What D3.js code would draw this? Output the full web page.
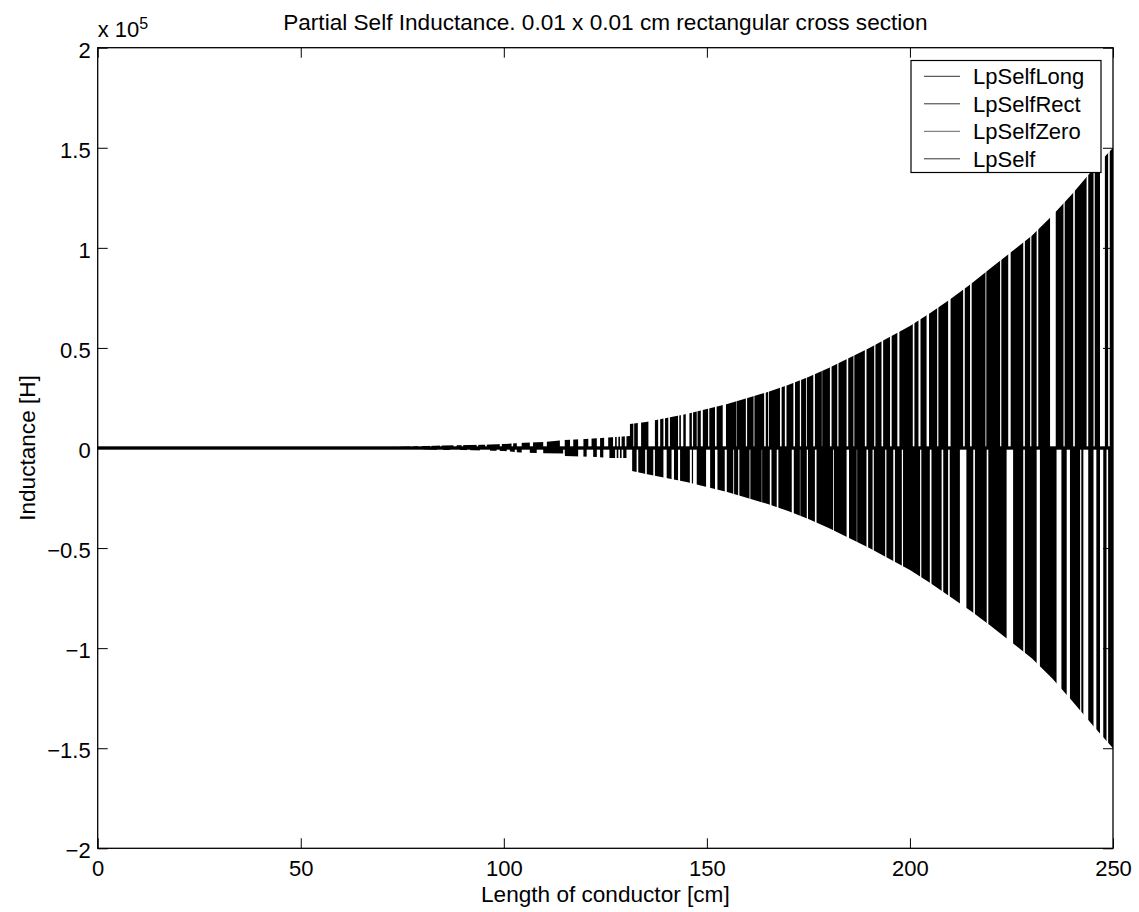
<!DOCTYPE html>
<html>
<head>
<meta charset="utf-8">
<script src="https://cdn.jsdelivr.net/npm/d3@7"></script>
<style>
  html, body { margin: 0; padding: 0; background: #fff; }
  svg { display: block; font-family: "Liberation Sans", Arial, Helvetica, sans-serif; }
</style>
</head>
<body>
<svg id="chart" width="1139" height="912"></svg>
<script>
// ---------------- data ----------------
const titleText = "Partial Self Inductance. 0.01 x 0.01 cm rectangular cross section";
const xLabelText = "Length of conductor [cm]";
const yLabelText = "Inductance [H]";
const lengthTicks = [0, 50, 100, 150, 200, 250];
const inductanceTicks = [-2e5, -1.5e5, -1e5, -0.5e5, 0, 0.5e5, 1e5, 1.5e5, 2e5];
const seriesNames = ["LpSelfLong", "LpSelfRect", "LpSelfZero", "LpSelf"];
const legendColors = ["#333", "#333", "#666", "#333"];

// the three closed-form series stay at ~0 H on this scale
const lengthEnds = [0, 250];
const lpSelfLong = [0, 0];
const lpSelfRect = [0, 0];
const lpSelfZero = [0, 0];
const lpSelfBase = [0, 0];

// LpSelf noise: reach of the spikes [cm, value in 1e5 H]
const upperReach = [
  [65,0.002],[75,0.006],[85,0.012],[95,0.016],[100,0.020],[105,0.026],[110,0.030],
  [115,0.040],[120,0.045],[124,0.050],[131.05,0.060],[131.06,0.120],[135,0.130],
  [140,0.150],[145,0.170],[150,0.195],[155,0.220],[160,0.250],[165,0.280],[170,0.315],
  [175,0.355],[180,0.400],[185,0.450],[190,0.500],[195,0.555],[200,0.610],[205,0.675],
  [210,0.745],[215,0.820],[220,0.900],[225,0.980],[230,1.060],[235,1.160],[240,1.270],
  [245,1.390],[250,1.500]
];
const lowerReach = [
  [75,-0.004],[85,-0.010],[90,-0.010],[95,-0.013],[100,-0.015],[104,-0.022],[110,-0.026],
  [114.9,-0.027],[115,-0.040],[123,-0.045],[126,-0.050],[131.5,-0.050],[131.55,-0.115],
  [135,-0.130],[140,-0.150],[145,-0.170],[150,-0.195],[155,-0.220],[160,-0.250],
  [165,-0.280],[170,-0.315],[175,-0.355],[180,-0.400],[185,-0.450],[190,-0.500],
  [195,-0.555],[200,-0.610],[205,-0.675],[210,-0.745],[215,-0.815],[220,-0.890],
  [225,-0.970],[230,-1.050],[235,-1.150],[240,-1.265],[245,-1.385],[250,-1.500]
];
// where spikes occur [from cm, to cm]
const upperSpans = [
  [66.2,67.0],[68.3,69.1],[69.5,70.7],[72.0,73.2],[74.4,76.9],[77.7,78.9],[79.8,81.8],
  [82.2,84.3],[84.7,87.6],[88.4,89.6],[90.0,93.3],[93.7,95.4],[95.8,99.0],[99.5,101.9],
  [102.3,103.2],[104.4,106.4],[107.2,109.7],[110.6,113.8],[115.0,116.3],[117.1,118.3],
  [119.6,120.8],[121.6,122.9],[123.7,124.7],[125.7,126.9],[127.4,127.8],[128.2,128.6],
  [129.0,129.8],[130.2,131.9],[132.1,133.0],[133.8,135.6],[137.2,138.0],[138.5,139.3],
  [139.7,140.5],[140.9,142.9],[143.2,143.6],[144.2,144.8],[145.7,146.3],[146.6,147.5],
  [147.7,148.5],[149.0,150.3],[150.6,152.0],[152.4,153.9],[154.7,157.2],[157.3,159.6],
  [159.9,161.5],[161.7,164.1],[164.5,165.1],[165.3,168.0],[168.4,169.2],[169.6,171.3],
  [171.7,172.9],[173.2,174.4],[174.6,176.2],[176.6,178.3],[178.4,180.3],[180.7,182.1],
  [182.4,184.4],[184.8,186.1],[186.3,188.9],[189.3,191.2],[191.5,193.0],[193.4,195.1],
  [195.5,196.9],[197.4,200.7],[201.1,202.1],[202.6,204.1],[204.7,206.7],[207.0,209.4],
  [210.0,213.1],[213.5,214.8],[215.2,218.6],[218.8,222.2],[222.5,224.2],[224.8,227.9],
  [228.3,229.6],[229.9,231.2],[231.6,234.5],[235.9,237.8],[238.1,240.2],[240.6,243.5],
  [243.9,245.2],[245.5,246.8],[248.0,248.8],[249.2,250.0]
];
const lowerSpans = [
  [75.2,77.7],[80.2,83.5],[85.1,86.7],[89.2,90.9],[91.7,94.1],[96.6,98.2],[99.0,100.7],
  [101.5,102.7],[103.2,104.4],[106.4,108.1],[109.7,114.6],[115.0,118.3],[119.6,120.4],
  [122.0,122.9],[123.7,124.5],[126.0,127.4],[127.8,128.2],[128.6,129.0],[129.4,130.2],
  [131.6,132.7],[133.1,134.8],[135.2,136.8],[137.2,139.3],[140.1,141.3],[141.9,142.9],
  [143.4,145.8],[146.3,146.6],[147.5,149.8],[150.8,152.0],[152.6,154.4],[154.9,156.5],
  [156.7,157.7],[158.0,160.5],[160.7,163.5],[163.6,165.5],[165.9,167.2],[167.6,170.9],
  [171.4,172.9],[173.0,174.6],[174.9,176.6],[177.0,181.1],[181.3,184.4],[185.0,186.9],
  [187.0,189.3],[189.7,190.8],[191.1,193.9],[194.2,195.9],[196.3,198.0],[198.3,202.5],
  [202.8,204.9],[205.3,207.8],[208.2,209.4],[209.8,212.3],[213.9,215.6],[216.0,218.9],
  [219.3,223.8],[225.4,227.9],[228.3,231.2],[232.0,236.1],[237.3,238.6],[239.4,241.9],
  [242.2,242.7],[243.9,245.2],[245.9,246.8],[247.6,248.4],[248.8,250.0]
];
const yScaleExp = 1e5;

// ---------------- layout ----------------
const svg = d3.select("#chart");
const L = 97.7, R = 1113, T = 47.7, B = 848.3;
const x = d3.scaleLinear().domain([0, 250]).range([L, R]);
const y = d3.scaleLinear().domain([-2e5, 2e5]).range([B, T]);
const tickFont = 22, labelFont = 22.6, legendFont = 22;

// clip paths = where spikes occur
const defs = svg.append("defs");
defs.append("clipPath").attr("id", "upClip").selectAll("rect").data(upperSpans).join("rect")
  .attr("x", d => x(d[0])).attr("width", d => Math.max(x(d[1]) - x(d[0]), 0.9))
  .attr("y", T).attr("height", y(0) - T);
defs.append("clipPath").attr("id", "downClip").selectAll("rect").data(lowerSpans).join("rect")
  .attr("x", d => x(d[0])).attr("width", d => Math.max(x(d[1]) - x(d[0]), 0.9))
  .attr("y", y(0)).attr("height", B - y(0));

const reachArea = d3.area().x(d => x(d[0])).y0(y(0)).y1(d => y(d[1] * yScaleExp));
svg.append("path").datum(upperReach).attr("d", reachArea)
  .attr("fill", "#000").attr("clip-path", "url(#upClip)");
svg.append("path").datum(lowerReach).attr("d", reachArea)
  .attr("fill", "#000").attr("clip-path", "url(#downClip)");

// near-zero series lines
const line = d3.line().x((d, i) => x(lengthEnds[i])).y(d => y(d));
[lpSelfLong, lpSelfRect, lpSelfZero, lpSelfBase].forEach(s => {
  svg.append("path").datum(s).attr("d", line)
    .attr("fill", "none").attr("stroke", "#000").attr("stroke-width", 2.6);
});

// axes (ticks inside, full box)
const fmtY = v => d3.format("")(Math.round(v / yScaleExp * 10) / 10).replace("-", "\u2212");
const gx = svg.append("g").attr("transform", `translate(0,${B})`)
  .call(d3.axisBottom(x).tickValues(lengthTicks).tickSize(-10).tickPadding(0).tickFormat(d3.format("d")));
gx.selectAll("text").attr("y", 28).attr("dy", null).attr("font-size", tickFont);
const gy = svg.append("g").attr("transform", `translate(${L},0)`)
  .call(d3.axisLeft(y).tickValues(inductanceTicks).tickSize(-10).tickPadding(7).tickFormat(fmtY));
gy.selectAll("text").attr("dy", "0.44em").attr("font-size", tickFont);
const gt = svg.append("g").attr("transform", `translate(0,${T})`)
  .call(d3.axisTop(x).tickValues(lengthTicks).tickSize(-10).tickFormat(""));
const gr = svg.append("g").attr("transform", `translate(${R},0)`)
  .call(d3.axisRight(y).tickValues(inductanceTicks).tickSize(-10).tickFormat(""));
[gx, gy, gt, gr].forEach(g => {
  g.select(".domain").remove();
  g.selectAll("line").attr("stroke", "#000").attr("stroke-width", 1);
  g.selectAll("text").attr("fill", "#000").attr("font-family", "Liberation Sans, Arial, sans-serif");
});
svg.append("rect").attr("x", L).attr("y", T).attr("width", R - L).attr("height", B - T)
  .attr("fill", "none").attr("stroke", "#000").attr("stroke-width", 1.3);

// exponent label
const ex = svg.append("text").attr("x", L).attr("y", 37.3).attr("font-size", tickFont).attr("fill", "#000");
ex.append("tspan").text("x 10");
ex.append("tspan").attr("dy", -8).attr("font-size", 16).text("5");

// title and axis labels
svg.append("text").attr("x", (L + R) / 2).attr("y", 30).attr("text-anchor", "middle")
  .attr("font-size", labelFont).attr("fill", "#000").text(titleText);
svg.append("text").attr("x", (L + R) / 2).attr("y", 902).attr("text-anchor", "middle")
  .attr("font-size", labelFont).attr("fill", "#000").text(xLabelText);
svg.append("text").attr("transform", `translate(35,${(T + B) / 2}) rotate(-90)`)
  .attr("text-anchor", "middle").attr("font-size", labelFont).attr("fill", "#000").text(yLabelText);

// legend
const lg = svg.append("g");
lg.append("rect").attr("x", 911).attr("y", 60.5).attr("width", 190).attr("height", 112)
  .attr("fill", "#fff").attr("stroke", "#000").attr("stroke-width", 1.2);
seriesNames.forEach((name, i) => {
  const ry = 76.3 + i * 27.5;
  lg.append("line").attr("x1", 924).attr("x2", 960).attr("y1", ry).attr("y2", ry)
    .attr("stroke", legendColors[i]).attr("stroke-width", 1);
  lg.append("text").attr("x", 973).attr("y", ry).attr("dy", "0.36em")
    .attr("font-size", legendFont).attr("fill", "#000").text(name);
});
</script>
</body>
</html>
